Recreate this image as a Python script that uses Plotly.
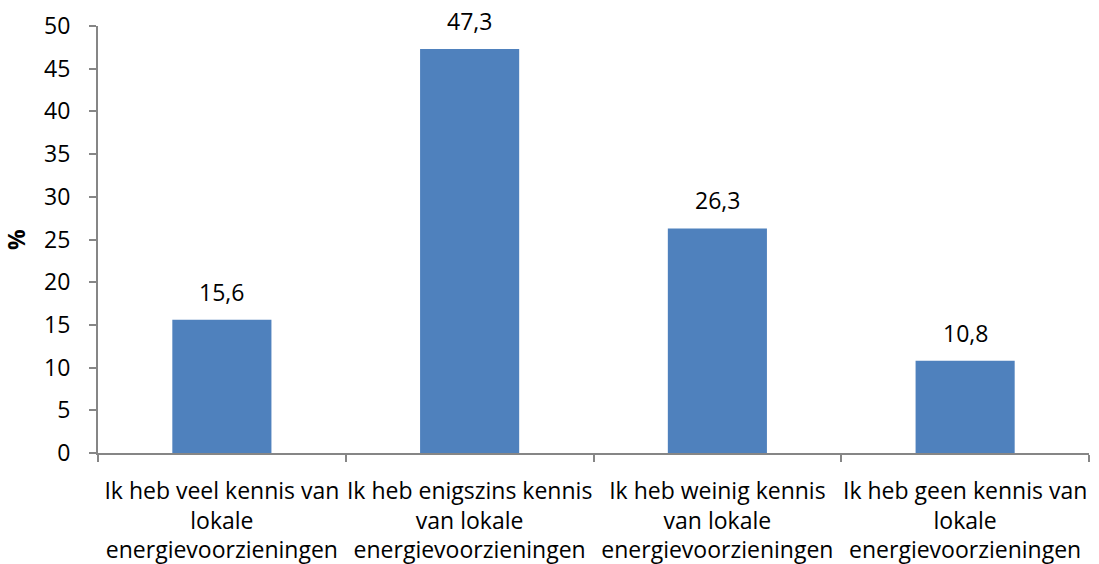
import plotly.graph_objects as go

categories = [
    "Ik heb veel kennis van<br>lokale<br>energievoorzieningen",
    "Ik heb enigszins kennis<br>van lokale<br>energievoorzieningen",
    "Ik heb weinig kennis<br>van lokale<br>energievoorzieningen",
    "Ik heb geen kennis van<br>lokale<br>energievoorzieningen",
]
values = [15.6, 47.3, 26.3, 10.8]
y_ticks = [0, 5, 10, 15, 20, 25, 30, 35, 40, 45, 50]

FONT = "Open Sans"
FS = 23
BAR = "#4F81BD"
AXIS = "#868686"

fig = go.Figure()
fig.add_trace(go.Bar(
    x=categories, y=values, marker=dict(color=BAR, line=dict(width=0)),
    width=0.4, hoverinfo="skip",
))
for c, v in zip(categories, values):
    fig.add_annotation(x=c, y=v, text=f"{v:.1f}".replace(".", ","), showarrow=False,
                       yanchor="bottom", yshift=10, font=dict(family=FONT, size=FS, color="#000"))

fig.update_layout(
    width=1099, height=564,
    margin=dict(l=98, r=10, t=26, b=111, autoexpand=False),
    plot_bgcolor="white", paper_bgcolor="white",
    showlegend=False,
    font=dict(family=FONT, size=FS, color="#000"),
    bargap=0.6,
)
fig.update_xaxes(
    type="category", showline=True, linecolor=AXIS, linewidth=2,
    ticks="outside", tickson="boundaries", ticklen=7, tickcolor=AXIS, tickwidth=2,
    tickfont=dict(family=FONT, size=FS), showgrid=False, range=[-0.5, 3.5],
    automargin=False, ticklabelstandoff=16, tickangle=0,
)
fig.update_yaxes(
    range=[0, 50], tickvals=y_ticks, showline=True, linecolor=AXIS, linewidth=2,
    ticks="outside", ticklen=7, tickcolor=AXIS, tickwidth=2, showgrid=False,
    tickfont=dict(family=FONT, size=FS), zeroline=False, automargin=False,
    ticklabelstandoff=14,
    title=dict(text="<b>%</b>", font=dict(family=FONT, size=FS), standoff=16),
)
fig.write_html("out.html", post_script="document.body.style.margin='0';",
               config={"displayModeBar": False})
